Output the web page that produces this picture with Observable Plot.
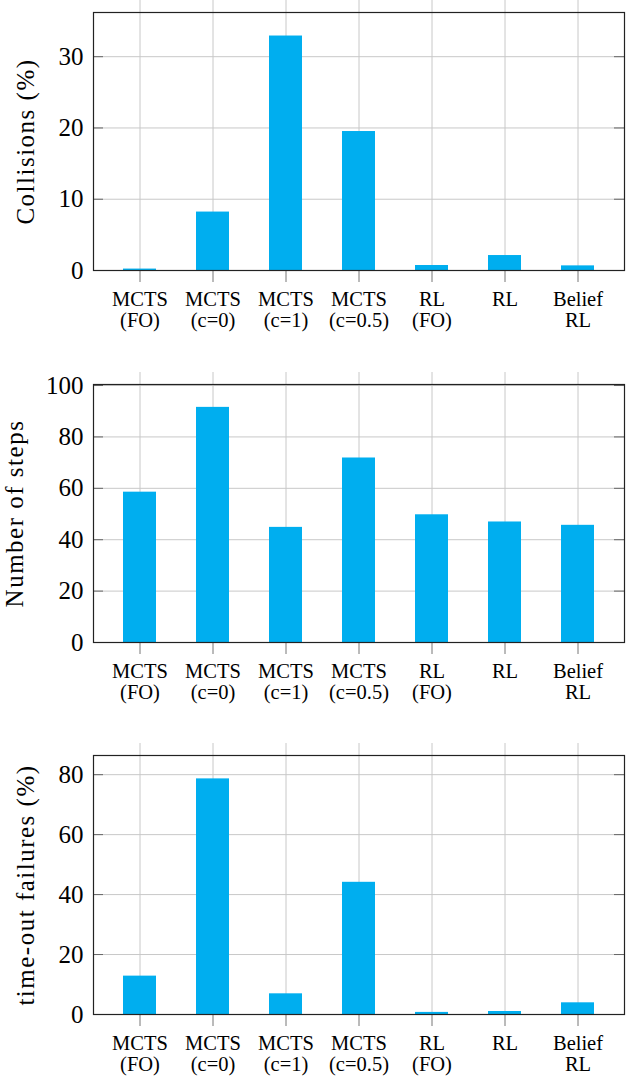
<!DOCTYPE html>
<html><head><meta charset="utf-8">
<script src="https://cdn.jsdelivr.net/npm/d3@7"></script>
<script src="https://cdn.jsdelivr.net/npm/@observablehq/plot@0.6"></script>
<style>
body{margin:0;background:#fff;}
#chart > div, #chart > svg{display:block;}
</style>
</head><body><div id="chart"></div>
<script>
const categories = ["MCTS\n(FO)", "MCTS\n(c=0)", "MCTS\n(c=1)", "MCTS\n(c=0.5)", "RL\n(FO)", "RL", "Belief\nRL"];
const collisions = [0.2, 8.2, 32.9, 19.5, 0.7, 2.1, 0.65];
const steps = [58.5, 91.5, 44.8, 71.8, 49.7, 46.9, 45.6];
const timeouts = [12.8, 78.6, 6.9, 44.1, 0.7, 1.0, 3.9];
const collisionTicks = [0, 10, 20, 30];
const stepTicks = [0, 20, 40, 60, 80, 100];
const timeoutTicks = [0, 20, 40, 60, 80];

const FONT = "Liberation Serif";
const BAR = "#00AEEF";
const GRID = "#c8c8c8";

function panel({values, ticks, ymax, label, labelDx, height, marginTop, marginBottom}) {
  const data = categories.map((c, i) => ({cat: c, v: values[i]}));
  const frameW = 627 - 93 - 3;
  const frameH = height - marginTop - marginBottom;
  const svg = Plot.plot({
    width: 627,
    height,
    marginLeft: 93,
    marginRight: 3,
    marginTop,
    marginBottom,
    style: {fontFamily: FONT, background: "#fff", color: "#000", overflow: "visible"},
    x: {domain: categories, paddingInner: 0.552, paddingOuter: 0.387, axis: null},
    y: {domain: [0, ymax], axis: null},
    marks: [
      Plot.ruleY(ticks, {y: d => d, stroke: GRID, strokeWidth: 1}),
      Plot.ruleX(categories, {x: d => d, stroke: GRID, strokeWidth: 1, insetTop: -12}),
      Plot.ruleX(categories, {x: d => d, stroke: "#777", strokeWidth: 1, insetTop: frameH, insetBottom: -12}),
      Plot.barY(data, {x: "cat", y: "v", fill: BAR}),
      Plot.ruleY(ticks, {y: d => d, stroke: "#666", strokeWidth: 1, insetRight: frameW - 10}),
      Plot.ruleY(ticks, {y: d => d, stroke: "#666", strokeWidth: 1, insetLeft: frameW - 10}),
      Plot.frame({stroke: "#222", strokeWidth: 1.2}),
      Plot.axisY(ticks, {tickSize: 0, tickPadding: 10, fontSize: 25, fontFamily: FONT, label: null, tickFormat: d => String(d)}),
      Plot.axisX(categories, {tickSize: 0, tickPadding: 20, fontSize: 20.5, fontFamily: FONT, lineHeight: 1.05, label: null, tickFormat: d => d}),
      Plot.text([label], {frameAnchor: "left", textAnchor: "middle", lineAnchor: "middle", rotate: -90, dx: labelDx, fontSize: 25, fontFamily: FONT, fill: "#000"})
    ]
  });
  d3.select(svg).selectAll("text").filter(function() { return this.textContent === label; })
    .attr("letter-spacing", 1.5);
  return svg;
}

const root = document.getElementById("chart");
root.append(panel({values: collisions, ticks: collisionTicks, ymax: 36.2, label: "Collisions (%)", labelDx: -68, height: 350, marginTop: 12, marginBottom: 80}));
root.append(panel({values: steps, ticks: stepTicks, ymax: 100.4, label: "Number of steps", labelDx: -79, height: 380, marginTop: 34, marginBottom: 88}));
root.append(panel({values: timeouts, ticks: timeoutTicks, ymax: 86.4, label: "time-out failures (%)", labelDx: -68, height: 347, marginTop: 25, marginBottom: 63}));
</script>
</body></html>
